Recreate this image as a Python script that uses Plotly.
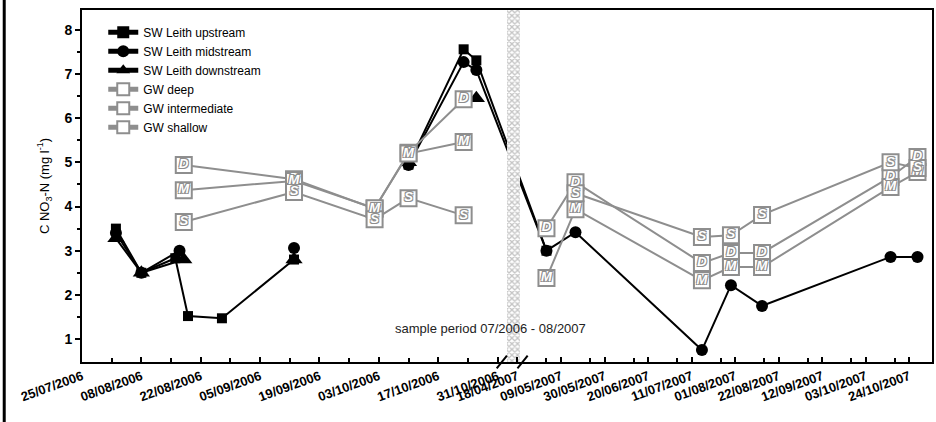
import plotly.graph_objects as go
from datetime import date

# ---------------- data ----------------
up_dates = ["2006-08-02", "2006-08-08", "2006-08-16", "2006-08-19", "2006-08-27", "2006-09-13",
            "2006-10-02", "2006-10-10", "2006-10-23", "2006-10-26", "2007-05-02"]
up_vals = [3.50, 2.50, 2.83, 1.52, 1.47, 2.80, None, 4.95, 7.56, 7.31, 3.00]

mid_dates = ["2006-08-02", "2006-08-08", "2006-08-17", "2006-08-27", "2006-09-13", "2006-10-02",
             "2006-10-10", "2006-10-23", "2006-10-26", "2007-05-02", "2007-05-16", "2007-07-16",
             "2007-07-30", "2007-08-14", "2007-10-15", "2007-10-28"]
mid_vals = [3.40, 2.50, 3.00, None, 3.06, None, 4.94, 7.27, 7.09, 3.00, 3.42, 0.75, 2.22, 1.75, 2.86, 2.86]

down_dates = ["2006-08-02", "2006-08-08", "2006-08-18", "2006-08-27", "2006-09-13", "2006-10-02",
              "2006-10-10", "2006-10-23", "2006-10-26"]
down_vals = [3.28, 2.50, 2.80, None, 2.80, None, 5.00, None, 6.45]

gw_dates_2006 = ["2006-08-18", "2006-09-13", "2006-10-02", "2006-10-10", "2006-10-23"]
gw_dates_2007 = ["2007-05-02", "2007-05-16", "2007-07-16", "2007-07-30", "2007-08-14", "2007-10-15", "2007-10-28"]
deep_2006 = [4.94, 4.62, 3.95, 5.22, 6.43]
deep_2007 = [3.51, 4.55, 2.72, 2.95, 2.95, 4.67, 5.12]
inter_2006 = [4.37, 4.58, 3.96, 5.20, 5.46]
inter_2007 = [2.38, 3.94, 2.33, 2.63, 2.63, 4.44, 4.78]
shallow_2006 = [3.65, 4.33, 3.71, 4.19, 3.80]
shallow_2007 = [None, 4.30, 3.31, 3.35, 3.81, 5.00, 4.87]

left_tick_dates = ["2006-07-25", "2006-08-08", "2006-08-22", "2006-09-05", "2006-09-19",
                   "2006-10-03", "2006-10-17", "2006-10-31"]
right_tick_dates = ["2007-04-18", "2007-05-09", "2007-05-30", "2007-06-20", "2007-07-11",
                    "2007-08-01", "2007-08-22", "2007-09-12", "2007-10-03", "2007-10-24"]
left_minor_dates = ["2006-08-01", "2006-08-15", "2006-08-29", "2006-09-12", "2006-09-26",
                    "2006-10-10", "2006-10-24"]
right_minor_dates = ["2007-05-02", "2007-05-23", "2007-06-13", "2007-07-04", "2007-07-25",
                     "2007-08-15", "2007-09-05", "2007-09-26", "2007-10-17"]

# ---------------- broken date axis ----------------
LEFT = (date(2006, 7, 25), date(2006, 10, 31))
RIGHT = (date(2007, 4, 18), date(2007, 11, 4))
LEFT_FRAC = (0.0, 0.4889)
RIGHT_FRAC = (0.5123, 1.0)


def pos(s):
    if s is None:
        return None
    d = date.fromisoformat(s)
    if d <= LEFT[1]:
        a, b = LEFT
        f0, f1 = LEFT_FRAC
    else:
        a, b = RIGHT
        f0, f1 = RIGHT_FRAC
    return f0 + (d - a).days / (b - a).days * (f1 - f0)


def fmt(s):
    d = date.fromisoformat(s)
    return d.strftime("%d/%m/%Y")


FONT = "Arial, Liberation Sans, sans-serif"
GRAY = "#8e8e8e"

fig = go.Figure()

# SW series
fig.add_trace(go.Scatter(x=[pos(d) for d in up_dates], y=up_vals, mode="lines+markers",
                         name="SW Leith upstream", line=dict(color="black", width=2),
                         marker=dict(symbol="square", size=10, color="black")))
fig.add_trace(go.Scatter(x=[pos(d) for d in mid_dates], y=mid_vals, mode="lines+markers",
                         name="SW Leith midstream", line=dict(color="black", width=2),
                         marker=dict(symbol="circle", size=12, color="black")))
fig.add_trace(go.Scatter(x=[pos(d) for d in down_dates], y=down_vals, mode="lines+markers",
                         name="SW Leith downstream", line=dict(color="black", width=2),
                         marker=dict(symbol="triangle-up", size=15, color="black")))

gw_x = [pos(d) for d in gw_dates_2006] + [None] + [pos(d) for d in gw_dates_2007]
gw_series = [
    ("GW deep", deep_2006 + [None] + deep_2007, "D"),
    ("GW intermediate", inter_2006 + [None] + inter_2007, "M"),
    ("GW shallow", shallow_2006 + [None] + shallow_2007, "S"),
]
for name, vals, letter in gw_series:
    fig.add_trace(go.Scatter(x=gw_x, y=vals, mode="lines+markers", name=name,
                             line=dict(color=GRAY, width=2),
                             marker=dict(symbol="square", size=16, color="white",
                                         line=dict(color=GRAY, width=2))))
OUTLINE = ("-1px -1px 0 %s, 1px -1px 0 %s, -1px 1px 0 %s, 1px 1px 0 %s" % ((GRAY,) * 4))
for name, vals, letter in gw_series:
    fig.add_trace(go.Scatter(x=gw_x, y=vals, mode="text", showlegend=False, hoverinfo="skip",
                             text=[letter if v is not None else "" for v in vals],
                             textposition="middle center",
                             textfont=dict(family=FONT, size=13, color="white",
                                           weight="bold", style="italic", shadow=OUTLINE)))

# break band (hatched) on an overlay axis so it sits above the data
fig.add_trace(go.Bar(x=[0.5075], y=[1], base=[0], width=[0.0150], xaxis="x2", yaxis="y2",
                     showlegend=False, hoverinfo="skip",
                     marker=dict(color="white", line=dict(width=0),
                                 pattern=dict(shape="x", fgcolor="#8a8a8a", bgcolor="white",
                                              size=4, solidity=0.55))))

YMIN, YMAX = 0.48, 8.45
tickvals = [pos(d) for d in left_tick_dates] + [pos(d) for d in right_tick_dates]
ticktext = [fmt(d) for d in left_tick_dates] + [fmt(d) for d in right_tick_dates]
minorvals = [pos(d) for d in left_minor_dates] + [pos(d) for d in right_minor_dates]

fig.update_layout(
    width=936, height=422,
    margin=dict(l=82, r=2, t=10, b=60),
    paper_bgcolor="white", plot_bgcolor="white",
    font=dict(family=FONT, color="black"),
    showlegend=True,
    legend=dict(x=0.025, y=0.978, xanchor="left", yanchor="top",
                bgcolor="rgba(0,0,0,0)", font=dict(size=12, family=FONT),
                tracegroupgap=0, itemsizing="constant"),
    xaxis=dict(range=[0, 1], tickmode="array", tickvals=tickvals, ticktext=ticktext,
               tickangle=-20, tickfont=dict(size=13, family=FONT, weight="bold"),
               ticks="inside", ticklen=5, tickwidth=1.5, tickcolor="black",
               minor=dict(tickmode="array", tickvals=minorvals, ticks="inside",
                          ticklen=4, tickwidth=1.5, tickcolor="black"),
               showline=True, linecolor="black", linewidth=2, mirror=True,
               showgrid=False, zeroline=False),
    yaxis=dict(range=[YMIN, YMAX], tickmode="array", tickvals=[1, 2, 3, 4, 5, 6, 7, 8],
               tickfont=dict(size=14, family=FONT, weight="bold"),
               ticks="outside", ticklen=5, tickwidth=1.5, tickcolor="black",
               minor=dict(tickmode="array", tickvals=[1.5, 2.5, 3.5, 4.5, 5.5, 6.5, 7.5],
                          ticks="outside", ticklen=3, tickwidth=1.5, tickcolor="black"),
               showline=True, linecolor="black", linewidth=2, mirror=True,
               showgrid=False, zeroline=False,
               title=dict(text="C NO<sub>3</sub>-N (mg l<sup>-1</sup>)",
                          font=dict(size=13, family=FONT), standoff=12)),
    xaxis2=dict(range=[0, 1], overlaying="x", visible=False),
    yaxis2=dict(range=[0, 1], overlaying="y", visible=False),
    bargap=0,
)

# sample period text
fig.add_annotation(text="sample period 07/2006 - 08/2007", xref="paper", yref="paper",
                   x=0.481, y=0.068, showarrow=False,
                   font=dict(size=13, family=FONT, color="#222"))

# axis break slashes
for xb in (pos(left_tick_dates[-1]) + 0.005, pos(right_tick_dates[0]) + 0.006):
    fig.add_shape(type="line", xref="paper", yref="paper",
                  x0=xb - 0.006, x1=xb + 0.006, y0=-0.018, y1=0.018,
                  line=dict(color="black", width=2))

# outer left border
fig.add_shape(type="line", xref="paper", yref="paper", x0=-0.0915, x1=-0.0915,
              y0=-0.2, y1=1.05, line=dict(color="black", width=3))

fig.write_html("out.html")
